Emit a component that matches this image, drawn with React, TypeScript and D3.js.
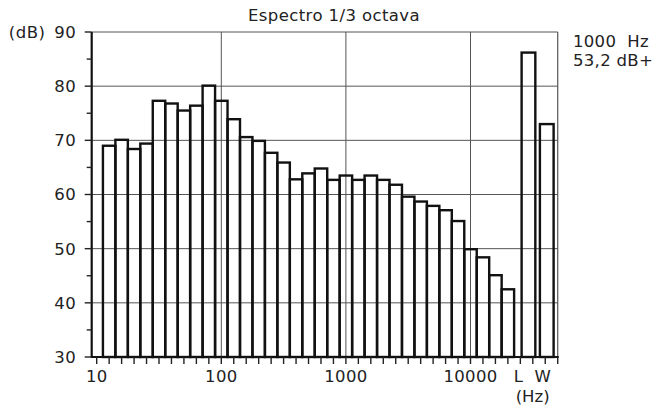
import React from "react";
import * as d3 from "d3";

const chartTitle = "Espectro 1/3 octava";
const bandFreqs = [12.5, 16, 20, 25, 31.5, 40, 50, 63, 80, 100, 125, 160, 200, 250, 315, 400, 500, 630, 800, 1000, 1250, 1600, 2000, 2500, 3150, 4000, 5000, 6300, 8000, 10000, 12500, 16000, 20000];
const bandLevels = [69.0, 70.1, 68.4, 69.4, 77.3, 76.8, 75.5, 76.4, 80.1, 77.3, 73.9, 70.6, 69.9, 67.7, 65.9, 62.8, 63.9, 64.8, 62.7, 63.5, 62.7, 63.5, 62.7, 61.8, 59.6, 58.7, 57.9, 57.1, 55.1, 49.9, 48.4, 45.1, 42.5];
const totalLabels = ["L", "W"];
const totalLevels = [86.2, 73.0];
const yTicks = [30, 40, 50, 60, 70, 80, 90];
const yMinorTicks = [35, 45, 55, 65, 75, 85];
const xTickLabels = [10, 100, 1000, 10000];
const infoLines = ["1000  Hz", "53,2 dB+"];
const yUnit = "(dB)";
const xUnit = "(Hz)";

const W = 666;
const H = 409;
const FONT = "'DejaVu Sans', sans-serif";
const FS = 16.5;

export default function App() {
  const x = d3.scaleLog().domain([10, 10000]).range([96.7, 470.5]);
  const y = d3.scaleLinear().domain([30, 90]).range([357, 32]);
  const left = 91.7;
  const nTicks = 38;
  const tickFreqs = d3.range(nTicks).map((i) => Math.pow(10, 1 + i / 10));
  const right = x(tickFreqs[nTicks - 1]);
  const half = Math.pow(10, 0.05);
  const exact = (f: number) => Math.pow(10, Math.round(Math.log10(f) * 10) / 10);
  const lw = d3
    .scaleBand<string>()
    .domain(totalLabels)
    .range([517.5, right])
    .paddingInner(0.25)
    .paddingOuter(0.225);

  const gridV = [100, 1000, 10000];
  const gridH = [40, 50, 60, 70, 80, 90];
  const textFill = "#222";

  return (
    <svg
      width={W}
      height={H}
      style={{ position: "absolute", left: 0, top: 0, background: "#fff" }}
      fontFamily={FONT}
    >
      <rect x={0} y={0} width={W} height={H} fill="#fff" />
      {/* grid */}
      {gridV.map((f) => (
        <line key={"gv" + f} x1={x(f)} x2={x(f)} y1={y(90)} y2={y(30)} stroke="#555" strokeWidth={1} />
      ))}
      <line x1={right} x2={right} y1={y(90)} y2={y(30)} stroke="#555" strokeWidth={1.2} />
      {gridH.map((v) => (
        <line key={"gh" + v} x1={left} x2={right} y1={y(v)} y2={y(v)} stroke="#555" strokeWidth={1} />
      ))}
      {/* bars */}
      {bandFreqs.map((f, i) => {
        const c = exact(f);
        const x0 = x(c / half);
        const x1 = x(c * half);
        return (
          <rect
            key={"b" + f}
            x={x0}
            y={y(bandLevels[i])}
            width={x1 - x0}
            height={y(30) - y(bandLevels[i])}
            fill="none"
            stroke="#111"
            strokeWidth={2.4}
          />
        );
      })}
      {totalLabels.map((l, i) => (
        <rect
          key={"t" + l}
          x={lw(l)!}
          y={y(totalLevels[i])}
          width={lw.bandwidth()}
          height={y(30) - y(totalLevels[i])}
          fill="none"
          stroke="#111"
          strokeWidth={2.4}
        />
      ))}
      {/* axes */}
      <line x1={left} x2={left} y1={y(90)} y2={y(30)} stroke="#111" strokeWidth={2.2} />
      <line x1={left - 1} x2={right + 1} y1={y(30)} y2={y(30)} stroke="#111" strokeWidth={2.2} />
      {yTicks.map((v) => (
        <line key={"yt" + v} x1={left - 7} x2={left} y1={y(v)} y2={y(v)} stroke="#222" strokeWidth={1.4} />
      ))}
      {yMinorTicks.map((v) => (
        <line key={"ym" + v} x1={left - 5} x2={left} y1={y(v)} y2={y(v)} stroke="#222" strokeWidth={1.4} />
      ))}
      {tickFreqs.map((f, i) => (
        <line key={"xt" + i} x1={x(f)} x2={x(f)} y1={y(30)} y2={y(30) + 7} stroke="#222" strokeWidth={1.4} />
      ))}
      {/* labels */}
      {yTicks.map((v) => (
        <text key={"yl" + v} x={left - 15.5} y={y(v)} dy="0.36em" textAnchor="end" fontSize={FS} letterSpacing={0.5} fill={textFill}>
          {v}
        </text>
      ))}
      <text x={45.5} y={y(90)} dy="0.36em" textAnchor="end" fontSize={FS} letterSpacing={0.5} fill={textFill}>
        {yUnit}
      </text>
      {xTickLabels.map((f) => (
        <text key={"xl" + f} x={x(f)} y={381.5} textAnchor="middle" fontSize={FS} letterSpacing={0.3} fill={textFill}>
          {f}
        </text>
      ))}
      {totalLabels.map((l, i) => (
        <text
          key={"tl" + l}
          x={lw(l)! + lw.bandwidth() / 2 + (i === 0 ? -10 : -4)}
          y={381.5}
          textAnchor="middle"
          fontSize={FS}
          fill={textFill}
        >
          {l}
        </text>
      ))}
      <text x={(lw("L")! + lw("W")! + lw.bandwidth()) / 2 - 5} y={402} textAnchor="middle" fontSize={FS} fill={textFill}>
        {xUnit}
      </text>
      <text x={334} y={20.5} textAnchor="middle" fontSize={FS} fill={textFill} letterSpacing={0.4}>
        {chartTitle}
      </text>
      {infoLines.map((t, i) => (
        <text
          key={"il" + i}
          x={573}
          y={47 + i * 18.5}
          fontSize={FS}
          fill={textFill}
          letterSpacing={0.3}
          style={{ whiteSpace: "pre" }}
        >
          {t}
        </text>
      ))}
    </svg>
  );
}
